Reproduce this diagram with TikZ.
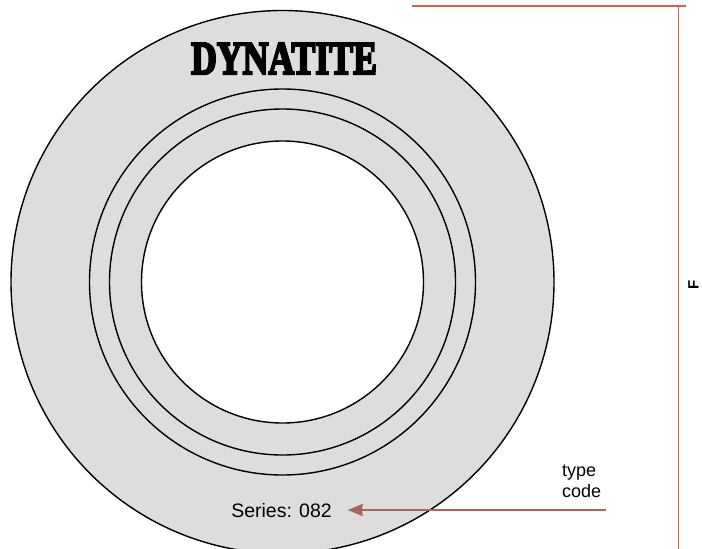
\documentclass[tikz,border=0pt]{standalone}
\usepackage{fontspec}
\setmainfont{Liberation Sans}
\newfontfamily\logofont[FakeBold=5]{Liberation Serif}
\usepackage{tikz}
\usetikzlibrary{positioning,arrows.meta}

\definecolor{discgray}{HTML}{DCDDDD}
\definecolor{dimred}{HTML}{D9604A}
\definecolor{leaderred}{HTML}{A9655C}

\begin{document}
\begin{tikzpicture}[
  x=1pt,
  y=-1pt,
  ring/.style={
    circle,
    draw=black,
    line width=1.4pt,
    inner sep=0pt,
    outer sep=0pt
  },
  label/.style={
    text=black,
    inner sep=0pt,
    outer sep=0pt
  },
  dimline/.style={
    draw=dimred,
    line width=1.7pt
  },
  leader/.style={
    -{Stealth[length=15pt,width=12pt,inset=1pt]},
    draw=leaderred,
    fill=leaderred,
    line width=2.2pt,
    shorten >=16pt
  }
]
\useasboundingbox (0,0) rectangle (702,549);

% Disc and rings
\node[ring, fill=discgray, minimum size=543pt] (outer) at (282.5,282) {};
\node[ring, minimum size=386pt] (ringa) at (outer.center) {};
\node[ring, minimum size=346pt] (ringb) at (outer.center) {};
\node[ring, fill=white, minimum size=282pt] (bore) at (outer.center) {};

% Marking
\node[label, font=\logofont\fontsize{47}{47}\selectfont\bfseries, xscale=0.76] (logo) at (284,58.5) {DYNATITE};
\node[label, font=\fontsize{19.5}{22}\selectfont] (series) at (281.5,511) {Series: 082};

% Type code
\node[label, font=\fontsize{18}{21}\selectfont, align=left, anchor=west] (typecode) at (562,481.5) {type\\code};
\coordinate (leaderstart) at (606,510);
\draw[leader] (leaderstart) -- (series.east |- leaderstart);

% Dimension F
\coordinate (dimleft) at (412,6);
\coordinate (dimright) at (686,6);
\coordinate (dimtop) at (678.5,6);
\coordinate (dimbottom) at (678.5,549);
\draw[dimline] (dimleft) -- (dimright);
\draw[dimline] (dimtop) -- (dimbottom);
\node[label, font=\fontsize{15}{15}\selectfont\bfseries, rotate=90] (dimf) at (693.5,284.5) {F};

\end{tikzpicture}
\end{document}
